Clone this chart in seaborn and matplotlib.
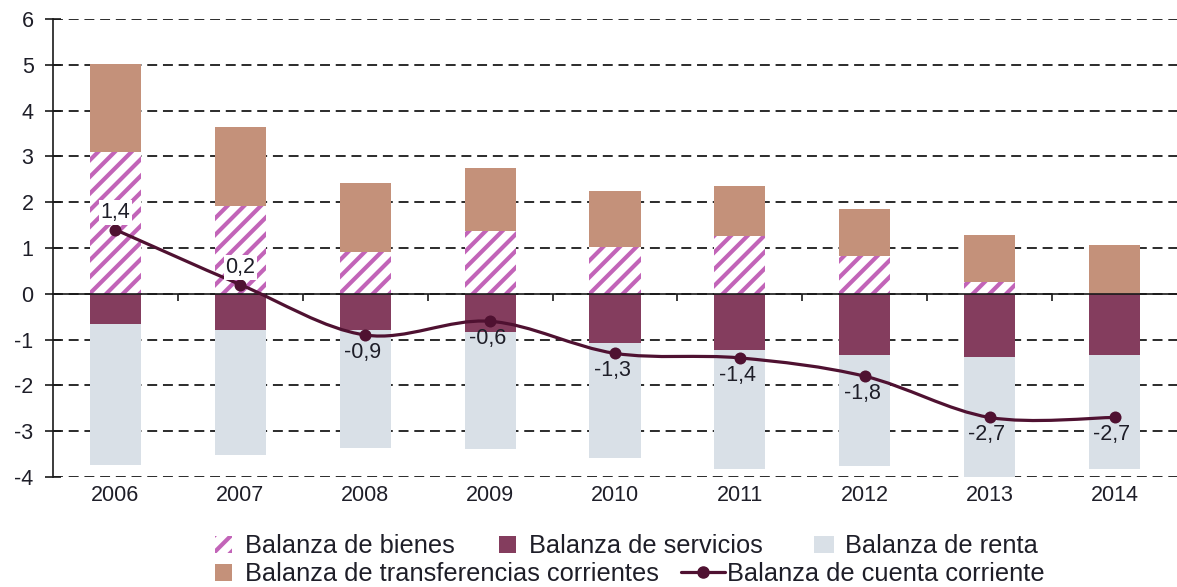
import numpy as np
import matplotlib
matplotlib.use("Agg")
import matplotlib.pyplot as plt
from matplotlib.path import Path
from matplotlib.patches import PathPatch, Patch
from matplotlib.lines import Line2D
import seaborn as sns

# --- Data ---
YEARS = ["2006", "2007", "2008", "2009", "2010", "2011", "2012", "2013", "2014"]
BIENES = [3.10, 1.92, 0.92, 1.38, 1.03, 1.27, 0.83, 0.26, 0.00]
TRANSFERENCIAS = [1.92, 1.73, 1.50, 1.37, 1.22, 1.09, 1.03, 1.03, 1.07]
SERVICIOS = [-0.66, -0.78, -0.78, -0.83, -1.07, -1.22, -1.33, -1.38, -1.33]
RENTA = [-3.07, -2.75, -2.58, -2.55, -2.51, -2.60, -2.43, -2.62, -2.49]
CUENTA = [1.4, 0.2, -0.9, -0.6, -1.3, -1.4, -1.8, -2.7, -2.7]

LABELS = ["Balanza de bienes", "Balanza de servicios", "Balanza de renta",
          "Balanza de transferencias corrientes", "Balanza de cuenta corriente"]
Y_TICKS = list(range(-4, 7))

# --- Styling ---
C_HATCH = "#c264b8"
C_TRANS = "#c4917a"
C_SERV = "#843d5e"
C_RENTA = "#d9e0e7"
C_LINE = "#4f1131"
C_TEXT = "#1e1e28"
BAR_W = 0.41

sns.set_style("white")
plt.rcParams["font.family"] = ["Liberation Sans", "DejaVu Sans"]
plt.rcParams["hatch.linewidth"] = 3.0

fig = plt.figure(figsize=(11.77, 5.87), dpi=100)
ax = fig.add_axes([53 / 1177, 1 - 477 / 587, 1 - 53 / 1177, (477 - 19) / 587])
ax.set_axisbelow(True)

bar_common = dict(width=BAR_W, saturation=1, linewidth=0, ax=ax, order=YEARS)
# positive side: bienes (hatched) with transferencias stacked on top
sns.barplot(x=YEARS, y=BIENES, color="white", edgecolor=C_HATCH, hatch="//", **bar_common)
sns.barplot(x=YEARS, y=TRANSFERENCIAS, bottom=BIENES, color=C_TRANS, **bar_common)
# negative side: servicios from zero, renta below it
sns.barplot(x=YEARS, y=SERVICIOS, color=C_SERV, **bar_common)
sns.barplot(x=YEARS, y=RENTA, bottom=SERVICIOS, color=C_RENTA, **bar_common)

# smoothed current-account line (cubic Bezier through the points)
xs = np.arange(len(YEARS), dtype=float)
pts = np.column_stack([xs, CUENTA])
verts = [pts[0]]
codes = [Path.MOVETO]
n = len(pts)
for i in range(n - 1):
    p_prev = pts[max(i - 1, 0)]
    p_next2 = pts[min(i + 2, n - 1)]
    c1 = pts[i] + (pts[i + 1] - p_prev) / 6
    c2 = pts[i + 1] - (p_next2 - pts[i]) / 6
    verts += [c1, c2, pts[i + 1]]
    codes += [Path.CURVE4] * 3
ax.add_patch(PathPatch(Path(verts, codes), facecolor="none", edgecolor=C_LINE,
                       linewidth=2.3, zorder=3, capstyle="round"))
sns.scatterplot(x=xs, y=CUENTA, color=C_LINE, s=75, linewidth=0, zorder=4, ax=ax)

for x, v in zip(xs, CUENTA):
    txt = f"{v:.1f}".replace(".", ",")
    if v >= 0:
        ax.annotate(txt, (x, v), xytext=(0, 12.5), textcoords="offset points",
                    ha="center", va="center", fontsize=15.5, color=C_TEXT, zorder=5,
                    bbox=dict(boxstyle="square,pad=0.08", fc="white", ec="none"))
    else:
        ax.annotate(txt, (x, v), xytext=(-2, -12.5), textcoords="offset points",
                    ha="center", va="center", fontsize=15.5, color=C_TEXT, zorder=5)

# axes
ax.set_xlim(-0.5, len(YEARS) - 0.5)
ax.set_ylim(-4, 6)
ax.set_yticks(Y_TICKS)
ax.set_yticklabels([str(t) for t in Y_TICKS])
ax.yaxis.grid(True, linestyle=(0, (5.5, 3.2)), color="#1a1a1a", linewidth=1.3)
ax.xaxis.grid(False)
ax.set_xlabel("")
ax.set_ylabel("")
for s in ["top", "right"]:
    ax.spines[s].set_visible(False)
ax.spines["left"].set_color("#1a1a1a")
ax.spines["left"].set_linewidth(1.2)
ax.spines["bottom"].set_position(("data", 0))
ax.spines["bottom"].set_color("#1a1a1a")
ax.spines["bottom"].set_linewidth(1.2)
ax.set_xticks(np.arange(len(YEARS) - 1) + 0.5)
ax.set_xticklabels([])
ax.tick_params(axis="x", direction="out", length=5, width=1.2, color="#1a1a1a", bottom=True)
ax.tick_params(axis="y", direction="inout", length=11, width=1.2, color="#1a1a1a",
               left=True, pad=8.5, labelsize=15.5, labelcolor=C_TEXT)

sec = ax.secondary_xaxis("bottom")
sec.set_xticks(xs)
sec.set_xticklabels(YEARS)
sec.tick_params(length=0, pad=6, labelsize=15.5, labelcolor=C_TEXT)
sec.spines["bottom"].set_visible(False)

# legend, laid out item by item like the original
handles = [
    Patch(facecolor="white", edgecolor=C_HATCH, hatch="//", linewidth=0),
    Patch(facecolor=C_SERV, linewidth=0),
    Patch(facecolor=C_RENTA, linewidth=0),
    Patch(facecolor=C_TRANS, linewidth=0),
    Line2D([], [], color=C_LINE, linewidth=2.3, marker="o", markersize=8),
]
leg_pos = [(215, 546, 0.68, 0.5), (499, 546, 0.68, 0.5), (814, 546, 0.78, 0.45),
           (215, 574, 0.68, 0.5), (681, 574, 1.75, 0.05)]
for h, lab, (px, py, hl, tp) in zip(handles, LABELS, leg_pos):
    leg = fig.legend(handles=[h], labels=[lab], loc="center left",
                     bbox_to_anchor=(px / 1177, 1 - py / 587), frameon=False,
                     fontsize=18.3, handlelength=hl, handleheight=0.65,
                     handletextpad=tp, borderpad=0, borderaxespad=0)
    for t in leg.get_texts():
        t.set_color(C_TEXT)

fig.savefig("out.png", dpi=100)
